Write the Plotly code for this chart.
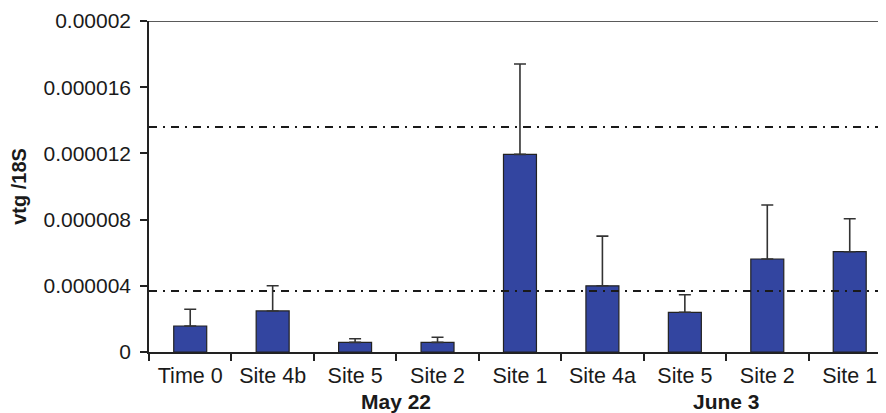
import plotly.graph_objects as go

categories = ["Time 0", "Site 4b", "Site 5", "Site 2", "Site 1", "Site 4a", "Site 5", "Site 2", "Site 1"]
values = [1.57e-6, 2.48e-6, 0.58e-6, 0.58e-6, 11.94e-6, 4.0e-6, 2.4e-6, 5.62e-6, 6.06e-6]
errors_plus = [1.01e-6, 1.52e-6, 0.22e-6, 0.31e-6, 5.46e-6, 3.0e-6, 1.06e-6, 3.26e-6, 1.99e-6]
ref_lines = [13.6e-6, 3.69e-6]
y_ticks = [0, 0.000004, 0.000008, 0.000012, 0.000016, 0.00002]
y_tick_labels = ["0", "0.000004", "0.000008", "0.000012", "0.000016", "0.00002"]
groups = [("May 22", 2.5), ("June 3", 6.5)]

x_pos = list(range(len(categories)))

fig = go.Figure()
fig.add_trace(go.Bar(
    x=x_pos, y=values, width=0.40,
    marker=dict(color="#3345A0", line=dict(color="#222222", width=1.2)),
    error_y=dict(type="data", symmetric=False, array=errors_plus,
                 arrayminus=[0] * len(values), color="#333333", thickness=1.6, width=6),
    showlegend=False,
))

for yv in ref_lines:
    fig.add_shape(type="line", xref="paper", yref="y", x0=0, x1=1, y0=yv, y1=yv,
                  line=dict(color="#1a1a1a", width=2, dash="8px,6px,2px,6px"))

fig.add_shape(type="line", xref="paper", yref="y", x0=0, x1=1, y0=0.00002, y1=0.00002,
              line=dict(color="#5a5a5a", width=2))

for name, xc in groups:
    fig.add_annotation(x=xc, xref="x", y=-0.151, yref="paper", text="<b>%s</b>" % name,
                       showarrow=False, font=dict(size=21, color="#1a1a1a"),
                       xanchor="center", yanchor="middle")

fig.update_layout(
    width=886, height=413,
    margin=dict(l=141, r=8, t=13, b=69, autoexpand=False),
    paper_bgcolor="white", plot_bgcolor="white",
    font=dict(family="Liberation Sans, Arial, sans-serif", size=21, color="#1a1a1a"),
    bargap=0.6,
)
fig.update_xaxes(
    range=[-0.5, 8.44], tickmode="array", tickvals=x_pos, ticktext=categories,
    ticks="", showgrid=False, zeroline=False, automargin=False,
    showline=True, linecolor="#222222", linewidth=1.5,
    tickfont=dict(size=21.5), ticklabelstandoff=3,
    minor=dict(tickmode="array", tickvals=[i - 0.5 for i in range(len(categories))],
               ticks="outside", ticklen=7, tickcolor="#222222", tickwidth=1.5, showgrid=False),
)
fig.update_yaxes(
    range=[0, 0.00002], tickmode="array", tickvals=y_ticks, ticktext=y_tick_labels,
    ticks="outside", ticklen=7, tickcolor="#222222", tickwidth=1.5,
    showgrid=False, zeroline=False, automargin=False,
    showline=True, linecolor="#222222", linewidth=1.5,
    tickfont=dict(size=21), ticklabelstandoff=5,
    title=dict(text="<b>vtg /18S</b>", font=dict(size=20), standoff=15),
)

fig.write_html("out.html")
